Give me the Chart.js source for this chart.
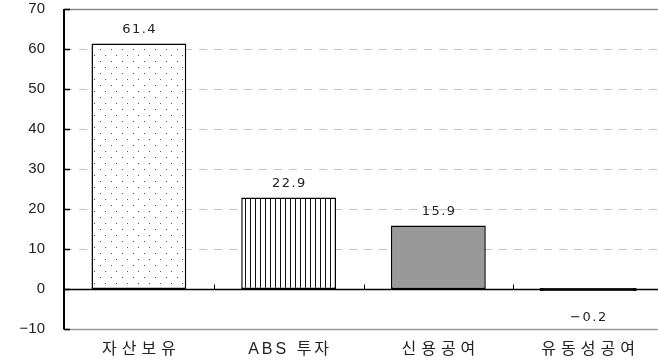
<!DOCTYPE html>
<html>
<head>
<meta charset="utf-8">
<script src="https://cdn.jsdelivr.net/npm/chart.js@4/dist/chart.umd.min.js"></script>
<style>
  html, body { margin: 0; padding: 0; background: #fff; overflow: hidden; }
  #wrap { width: 658px; height: 361px; overflow: hidden; }
  canvas { display: block; }
</style>
</head>
<body>
<div id="wrap"><canvas id="c" width="663" height="361"></canvas></div>
<script>
// Categories and values
const categories = ['자산보유', 'ABS 투자', '신용공여', '유동성공여'];
const values = [61.4, 22.9, 15.9, -0.2];
const yTickValues = [-10, 0, 10, 20, 30, 40, 50, 60, 70];

const FONT = '"Liberation Sans", Arial, "Noto Sans CJK KR", sans-serif';
const VALUE_FONT = '"DejaVu Sans", "Liberation Sans", sans-serif';
const fmt = v => (v < 0 ? '\u2212' + Math.abs(v) : String(v));

// Fill patterns
function dotPattern() {
  const c = document.createElement('canvas');
  c.width = 11; c.height = 12;
  const g = c.getContext('2d');
  g.fillStyle = '#fff'; g.fillRect(0, 0, 11, 12);
  g.fillStyle = '#555';
  g.fillRect(1, 1, 1, 1);
  g.fillRect(6, 7, 1, 1);
  return g.createPattern(c, 'repeat');
}
function stripePattern() {
  const c = document.createElement('canvas');
  c.width = 5; c.height = 5;
  const g = c.getContext('2d');
  g.fillStyle = '#fff'; g.fillRect(0, 0, 5, 5);
  g.fillStyle = '#111';
  g.fillRect(0, 0, 1, 5);
  return g.createPattern(c, 'repeat');
}
const fills = [dotPattern(), stripePattern(), '#999999', '#000000'];

// Letter spacing for category labels: Hangul-only labels are spaced wider
function spacingFor(text) {
  return /[A-Za-z]/.test(text) ? 3 : 5;
}
const spacingPlugin = {
  id: 'spacing',
  beforeDraw(chart) {
    const s = chart.scales.x;
    if (!s || s._spaced) return;
    const orig = s.drawLabels;
    s.drawLabels = function (area) {
      const ctx = this.ctx;
      const ft = ctx.fillText;
      ctx.save();
      ctx.fillText = function (t, x, y, mw) {
        const sp = spacingFor(String(t));
        ctx.letterSpacing = sp + 'px';
        const dx = ctx.textAlign === 'center' ? sp / 2 : 0;
        return mw === undefined ? ft.call(ctx, t, x + dx, y) : ft.call(ctx, t, x + dx, y, mw);
      };
      orig.call(this, area);
      delete ctx.fillText;
      ctx.letterSpacing = '0px';
      ctx.restore();
    };
    s._spaced = true;
  }
};

// Grid, axis lines and tick marks
const framePlugin = {
  id: 'frame',
  beforeDatasetsDraw(chart) {
    const { ctx, chartArea: a, scales: { y } } = chart;
    ctx.save();
    yTickValues.forEach(v => {
      if (v === 0) return;
      const py = Math.round(y.getPixelForValue(v)) + 0.5;
      ctx.beginPath();
      if (v === 70 || v === -10) {
        ctx.setLineDash([]);
        ctx.strokeStyle = v === 70 ? '#8a8a8a' : '#9a9a9a';
        ctx.lineWidth = 1.5;
      } else {
        ctx.setLineDash([8, 7]);
        ctx.strokeStyle = '#c4c4c4';
        ctx.lineWidth = 1;
      }
      ctx.moveTo(a.left, py);
      ctx.lineTo(a.right, py);
      ctx.stroke();
    });
    ctx.restore();
  },
  afterDatasetsDraw(chart) {
    const { ctx, chartArea: a, scales: { x, y } } = chart;
    ctx.save();
    ctx.setLineDash([]);
    ctx.strokeStyle = '#000';
    // zero line
    const y0 = Math.round(y.getPixelForValue(0)) + 0.5;
    ctx.lineWidth = 1.5;
    ctx.beginPath(); ctx.moveTo(a.left, y0); ctx.lineTo(a.right, y0); ctx.stroke();
    // left axis
    ctx.lineWidth = 2;
    ctx.beginPath(); ctx.moveTo(a.left, a.top); ctx.lineTo(a.left, a.bottom + 0.5); ctx.stroke();
    // y tick marks (inward)
    ctx.lineWidth = 1.5;
    yTickValues.forEach(v => {
      const py = Math.round(y.getPixelForValue(v)) + 0.5;
      ctx.beginPath(); ctx.moveTo(a.left, py); ctx.lineTo(a.left + 6, py); ctx.stroke();
    });
    // x tick marks at category boundaries
    ctx.lineWidth = 1;
    for (let i = 1; i < categories.length; i++) {
      const px = Math.round((x.getPixelForValue(i - 1) + x.getPixelForValue(i)) / 2) + 0.5;
      ctx.beginPath(); ctx.moveTo(px, y0); ctx.lineTo(px, y0 - 5); ctx.stroke();
    }
    // value labels
    ctx.fillStyle = '#222';
    ctx.font = '13px ' + VALUE_FONT;
    ctx.letterSpacing = '1.5px';
    ctx.textAlign = 'center';
    ctx.textBaseline = 'middle';
    chart.getDatasetMeta(0).data.forEach((bar, i) => {
      const v = values[i];
      const ty = v >= 0 ? bar.y - 14 : bar.y + 28;
      ctx.fillText(fmt(v), bar.x + 0.75, ty);
    });
    ctx.restore();
  }
};

new Chart(document.getElementById('c'), {
  type: 'bar',
  data: {
    labels: categories,
    datasets: [{
      data: values,
      backgroundColor: fills,
      borderColor: '#000',
      borderWidth: 1.5,
      borderSkipped: false,
      inflateAmount: c => (Math.abs(values[c.dataIndex]) < 1 ? 1.1 : 0),
      barPercentage: 0.633,
      categoryPercentage: 1
    }]
  },
  options: {
    responsive: false,
    animation: false,
    events: [],
    layout: { padding: { top: 9, left: 0, right: 0, bottom: 0 } },
    plugins: { legend: { display: false }, tooltip: { enabled: false } },
    scales: {
      x: {
        grid: { display: false, drawTicks: false },
        border: { display: false },
        ticks: { color: '#222', font: { size: 16, family: FONT }, padding: 11 },
        afterFit(s) { s.height = 32; }
      },
      y: {
        min: -10, max: 70,
        grid: { display: false, drawTicks: true, tickLength: 19, tickColor: 'rgba(0,0,0,0)' },
        border: { display: false },
        afterBuildTicks(s) { s.ticks = yTickValues.map(v => ({ value: v })); },
        ticks: { color: '#222', font: { size: 15, family: FONT }, padding: 0, callback: v => fmt(v) },
        afterFit(s) { s.width = 64; s.paddingTop = 0; s.paddingBottom = 0; }
      }
    }
  },
  plugins: [spacingPlugin, framePlugin]
});
</script>
</body>
</html>
